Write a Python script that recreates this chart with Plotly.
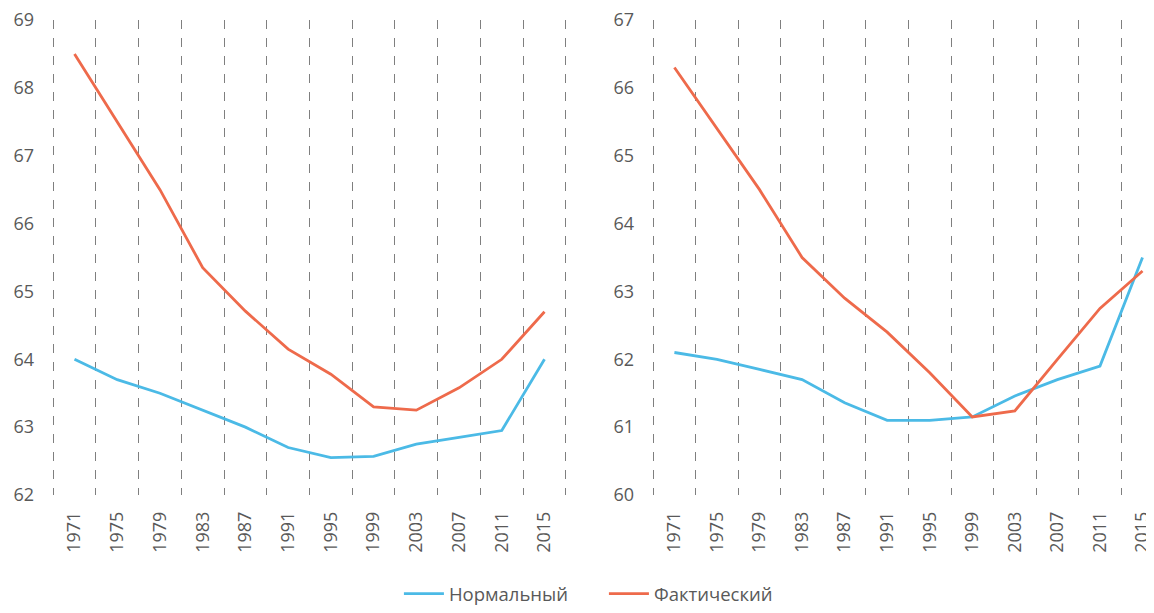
import plotly.graph_objects as go
from plotly.subplots import make_subplots

years = [1971, 1975, 1979, 1983, 1987, 1991, 1995, 1999, 2003, 2007, 2011, 2015]

left_normal = [64.0, 63.7, 63.5, 63.25, 63.0, 62.7, 62.55, 62.57, 62.75, 62.85, 62.95, 64.0]
left_actual = [68.5, 67.5, 66.5, 65.35, 64.71, 64.15, 63.78, 63.3, 63.25, 63.58, 64.0, 64.7]

right_normal = [62.1, 62.0, 61.85, 61.7, 61.36, 61.1, 61.1, 61.15, 61.46, 61.7, 61.9, 63.5]
right_actual = [66.3, 65.4, 64.5, 63.5, 62.9, 62.4, 61.8, 61.15, 61.24, 62.0, 62.75, 63.3]

series_names = ["Нормальный", "Фактический"]
colors = ["#4BBAE6", "#EE6A4B"]

fig = make_subplots(rows=1, cols=2)

for col, (norm, act) in enumerate([(left_normal, left_actual), (right_normal, right_actual)], start=1):
    for name, vals, color in zip(series_names, [norm, act], colors):
        fig.add_trace(
            go.Scatter(
                x=years, y=vals, mode="lines", name=name,
                line=dict(color=color, width=2.8),
                showlegend=(col == 1),
                cliponaxis=False,
            ),
            row=1, col=col,
        )

font_color = "#595959"
step = 4
xaxis_common = dict(
    type="linear",
    tick0=years[0],
    dtick=step,
    showgrid=False,
    showline=False,
    zeroline=False,
    ticks="",
    tickangle=-90,
    ticklabelstandoff=12,
    ticklabeloverflow="allow",
    automargin=False,
    tickfont=dict(size=18, color=font_color),
    minor=dict(
        tick0=years[0] - step / 2,
        dtick=step,
        showgrid=True,
        gridcolor="#7f7f7f",
        griddash="dash",
        gridwidth=1,
        ticks="",
    ),
)
yaxis_common = dict(
    showgrid=False,
    zeroline=False,
    showline=False,
    dtick=1,
    ticks="",
    ticklabelstandoff=16,
    ticklabeloverflow="allow",
    automargin=False,
    tickfont=dict(size=18, color=font_color),
)

left_dom = [43 / 1146, 560 / 1146]
right_dom = [643 / 1146, 1.0]
left_rng = [years[0] - 0.55 * step, years[-1] + 0.55 * step]
right_rng = [years[0] - 0.55 * step, years[-1] + 0.27 * step]

fig.update_layout(
    width=1146, height=605,
    margin=dict(l=0, r=0, t=12, b=118),
    paper_bgcolor="white", plot_bgcolor="white",
    font=dict(family="Open Sans, Segoe UI, sans-serif", color=font_color),
    xaxis=dict(domain=left_dom, range=left_rng, **xaxis_common),
    xaxis2=dict(domain=right_dom, range=right_rng, **xaxis_common),
    yaxis=dict(range=[62, 69], **yaxis_common),
    yaxis2=dict(range=[60, 67], **yaxis_common),
    legend=dict(
        orientation="h", x=0.52, xanchor="center",
        yref="container", y=0.0, yanchor="bottom",
        font=dict(size=18.5, color=font_color),
        itemwidth=40,
        entrywidth=150,
        tracegroupgap=0,
    ),
)

fig.write_html("out.html")
